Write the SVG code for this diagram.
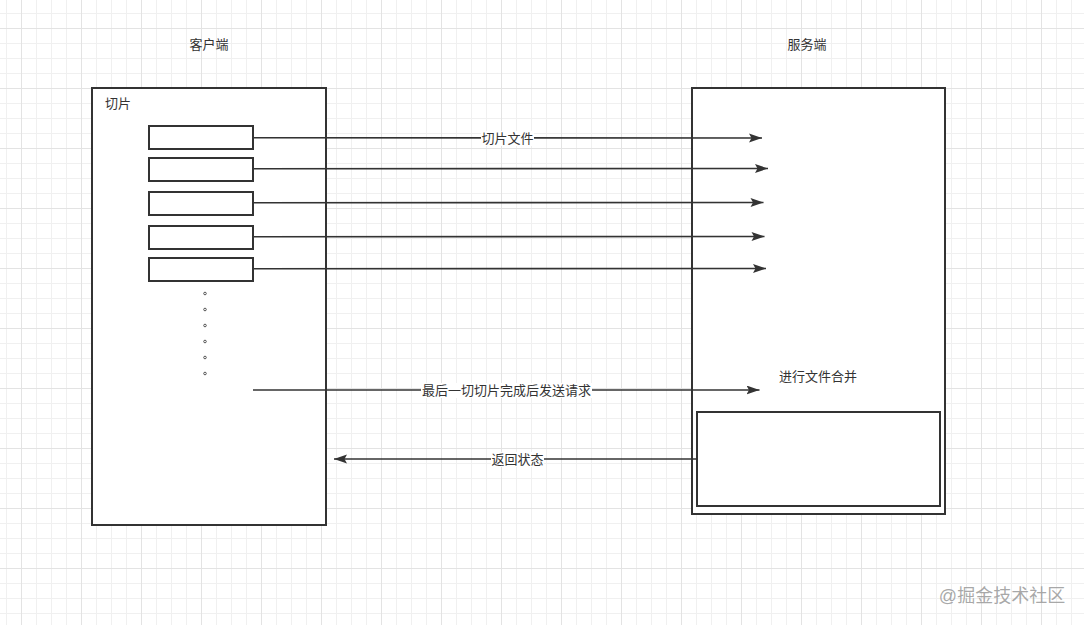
<svg xmlns="http://www.w3.org/2000/svg" width="1084" height="625" viewBox="0 0 1084 625">
<style>
.box{fill:#fff;stroke:#333;stroke-width:2}
.ln{fill:none;stroke:#333;stroke-width:1.6}
.t{font-family:"Liberation Sans","Noto Sans CJK SC",sans-serif;font-size:13px;fill:#333}
.lbl{fill:#fff}
</style>
<defs>
<pattern id="grid" x="21" y="28" width="60" height="60" patternUnits="userSpaceOnUse">
<path d="M15.5,0V60M30.5,0V60M45.5,0V60M0,15.5H60M0,30.5H60M0,45.5H60" stroke="#f0f0f0" stroke-width="1" fill="none"/>
<path d="M0.5,0V60M0,0.5H60" stroke="#e3e3e3" stroke-width="1" fill="none"/>
</pattern>
<marker id="arr" markerUnits="userSpaceOnUse" markerWidth="14" markerHeight="10" refX="13" refY="4.5" orient="auto">
<path d="M0,0L13,4.5L0,9L2.5,4.5Z" fill="#333"/>
</marker>
</defs>
<rect width="1084" height="625" fill="#fff"/>
<rect width="1084" height="625" fill="url(#grid)"/>

<g id="client">
<rect class="box" x="92" y="88" width="234" height="437"/>
<text class="t" x="209" y="48.5" text-anchor="middle">客户端</text>
<text class="t" x="105" y="107.5">切片</text>
</g>
<g id="slices">
<rect class="box" x="149" y="126" width="104" height="23"/>
<rect class="box" x="149" y="158" width="104" height="23"/>
<rect class="box" x="149" y="192" width="104" height="23"/>
<rect class="box" x="149" y="226" width="104" height="23"/>
<rect class="box" x="149" y="258" width="104" height="23"/>
</g>
<g id="dots" fill="none" stroke="#555" stroke-width="1">
<circle cx="205" cy="293.5" r="1.3"/>
<circle cx="205" cy="309.5" r="1.3"/>
<circle cx="205" cy="325.5" r="1.3"/>
<circle cx="205" cy="341.5" r="1.3"/>
<circle cx="205" cy="357.5" r="1.3"/>
<circle cx="205" cy="373.5" r="1.3"/>
</g>
<g id="server">
<rect class="box" x="692" y="88" width="253" height="426"/>
<text class="t" x="807" y="48.5" text-anchor="middle">服务端</text>
<text class="t" x="818" y="380.5" text-anchor="middle">进行文件合并</text>
</g>
<g id="merge">
<rect class="box" x="697" y="412" width="243" height="94"/>
</g>

<g id="connectors">
<line class="ln" x1="253" y1="137.7" x2="762" y2="138" marker-end="url(#arr)"/>
<line class="ln" x1="253" y1="168.7" x2="768" y2="168.5" marker-end="url(#arr)"/>
<line class="ln" x1="253" y1="202.7" x2="763.5" y2="202.5" marker-end="url(#arr)"/>
<line class="ln" x1="253" y1="236.7" x2="764.5" y2="236.5" marker-end="url(#arr)"/>
<line class="ln" x1="253" y1="268.7" x2="766" y2="268.5" marker-end="url(#arr)"/>
<line class="ln" x1="253" y1="390" x2="759.5" y2="390" marker-end="url(#arr)"/>
<line class="ln" x1="697" y1="459" x2="334" y2="459" marker-end="url(#arr)"/>
<rect class="lbl" x="481" y="131" width="53" height="15"/>
<text class="t" x="507.5" y="143" text-anchor="middle">切片文件</text>
<rect class="lbl" x="421" y="383" width="171" height="15"/>
<text class="t" x="506.5" y="395" text-anchor="middle">最后一切切片完成后发送请求</text>
<rect class="lbl" x="491" y="452" width="53" height="15"/>
<text class="t" x="517.5" y="464" text-anchor="middle">返回状态</text>
</g>
<text x="1002" y="602" text-anchor="middle" font-family="Liberation Sans,'Noto Sans CJK SC',sans-serif" font-size="18" fill="#999" fill-opacity="0.85">@掘金技术社区</text>
</svg>
